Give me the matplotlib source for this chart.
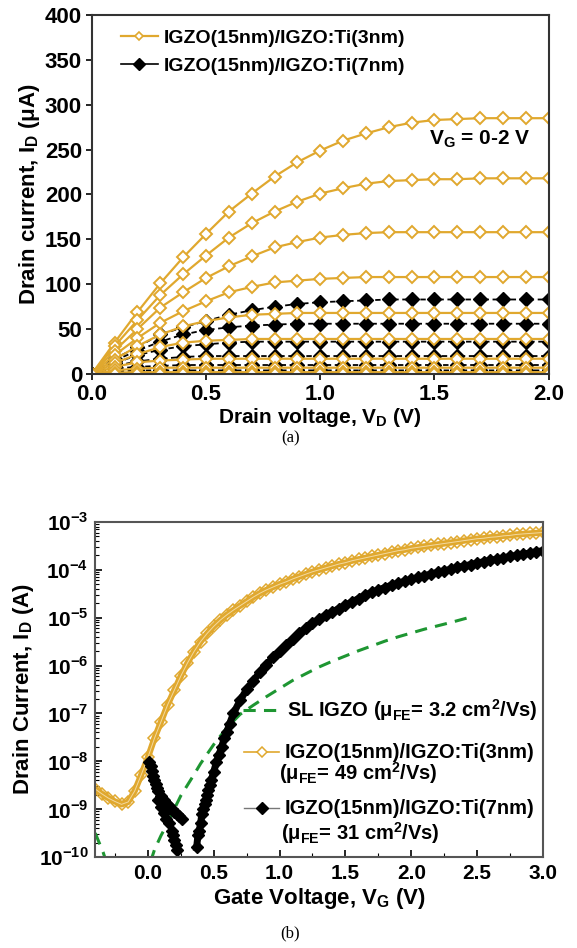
import numpy as np
import matplotlib
matplotlib.use('Agg')
import matplotlib.pyplot as plt
from matplotlib.ticker import FixedLocator, MultipleLocator, LogLocator, NullFormatter

plt.rcParams['font.family'] = ['Liberation Sans', 'DejaVu Sans']
plt.rcParams['font.weight'] = 'bold'
plt.rcParams['axes.labelweight'] = 'bold'
plt.rcParams['mathtext.fontset'] = 'custom'
plt.rcParams['mathtext.rm'] = 'Liberation Sans:bold'
plt.rcParams['mathtext.bf'] = 'Liberation Sans:bold'

GOLD = '#E0A82E'
GREEN = '#1E9632'

# ---------------- (a) output curves, VG = 2.0 ... 0.0 V in 0.2 V steps
vd = [0.0, 0.1, 0.2, 0.3, 0.4, 0.5, 0.6, 0.7, 0.8, 0.9, 1.0,
      1.1, 1.2, 1.3, 1.4, 1.5, 1.6, 1.7, 1.8, 1.9, 2.0]

gold_20 = [0, 35, 69, 101, 130, 156, 181, 201, 220, 236, 249, 260, 268, 275, 280, 283, 284, 285, 285, 285, 285]
gold_18 = [0, 31, 60, 88, 111, 132, 152, 168, 181, 192, 201, 207, 212, 215, 216, 217, 217, 218, 218, 218, 218]
gold_16 = [0, 26, 50, 74, 91, 107, 120, 131, 141, 147, 152, 155, 157, 158, 158, 158, 158, 158, 158, 158, 158]
gold_14 = [0, 21, 40, 57, 70, 81, 91, 97, 102, 104, 106, 107, 108, 108, 108, 108, 108, 108, 108, 108, 108]
gold_12 = [0, 16, 31, 44, 53, 59, 63, 66, 67, 68, 68, 68, 68, 68, 68, 68, 68, 68, 68, 68, 68]
gold_10 = [0, 12, 22, 30, 35, 37, 38, 39, 39, 39, 39, 39, 39, 39, 39, 39, 39, 39, 39, 39, 39]
gold_08 = [0, 8, 13, 15, 16, 17, 17, 17, 17, 17, 17, 17, 17, 17, 17, 17, 17, 17, 17, 17, 17]
gold_06 = [0, 4, 6, 7, 7, 7, 7, 7, 7, 7, 7, 7, 7, 7, 7, 7, 7, 7, 7, 7, 7]
gold_04 = [0, 1.5, 2, 2, 2, 2, 2, 2, 2, 2, 2, 2, 2, 2, 2, 2, 2, 2, 2, 2, 2]
gold_02 = [0, 0.5, 0.5, 0.5, 0.5, 0.5, 0.5, 0.5, 0.5, 0.5, 0.5, 0.5, 0.5, 0.5, 0.5, 0.5, 0.5, 0.5, 0.5, 0.5, 0.5]
gold_00 = [0, 0, 0, 0, 0, 0, 0, 0, 0, 0, 0, 0, 0, 0, 0, 0, 0, 0, 0, 0, 0]

black_20 = [0, 17, 30, 44, 52, 59, 66, 71, 75, 78, 80, 81, 82, 83, 83, 83, 83, 83, 83, 83, 83]
black_18 = [0, 15, 26, 36, 44, 49, 52, 54, 55, 56, 56, 56, 56, 56, 56, 56, 56, 56, 56, 56, 56]
black_16 = [0, 12, 21, 27, 31, 33, 35, 36, 36, 36, 36, 36, 36, 36, 36, 36, 36, 36, 36, 36, 36]
black_14 = [0, 9, 14, 17, 19, 20, 20, 20, 20, 20, 20, 20, 20, 20, 20, 20, 20, 20, 20, 20, 20]
black_12 = [0, 6, 8, 9, 10, 10, 10, 10, 10, 10, 10, 10, 10, 10, 10, 10, 10, 10, 10, 10, 10]
black_10 = [0, 3, 4, 4, 4, 4, 4, 4, 4, 4, 4, 4, 4, 4, 4, 4, 4, 4, 4, 4, 4]
black_08 = [0, 1, 1, 1, 1, 1, 1, 1, 1, 1, 1, 1, 1, 1, 1, 1, 1, 1, 1, 1, 1]
black_06 = [0, 0.3, 0.3, 0.3, 0.3, 0.3, 0.3, 0.3, 0.3, 0.3, 0.3, 0.3, 0.3, 0.3, 0.3, 0.3, 0.3, 0.3, 0.3, 0.3, 0.3]
black_04 = [0, 0, 0, 0, 0, 0, 0, 0, 0, 0, 0, 0, 0, 0, 0, 0, 0, 0, 0, 0, 0]

gold_set = [gold_20, gold_18, gold_16, gold_14, gold_12, gold_10, gold_08, gold_06, gold_04, gold_02, gold_00]
black_set = [black_20, black_18, black_16, black_14, black_12, black_10, black_08, black_06, black_04]

# ---------------- (b) transfer curves, log10 of drain current (A)
vg_gold = [-0.40, -0.35, -0.30, -0.25, -0.20, -0.15, -0.10, -0.05, 0.00, 0.05,
           0.10, 0.15, 0.20, 0.25, 0.30, 0.35, 0.40, 0.45, 0.50, 0.55,
           0.60, 0.65, 0.70, 0.75, 0.80, 0.85, 0.90, 0.95, 1.00, 1.05,
           1.10, 1.15, 1.20, 1.25, 1.30, 1.35, 1.40, 1.45, 1.50, 1.55,
           1.60, 1.65, 1.70, 1.75, 1.80, 1.85, 1.90, 1.95, 2.00, 2.05,
           2.10, 2.15, 2.20, 2.25, 2.30, 2.35, 2.40, 2.45, 2.50, 2.55,
           2.60, 2.65, 2.70, 2.75, 2.80, 2.85, 2.90, 2.95, 3.00]
gold_log = [-8.58, -8.68, -8.77, -8.84, -8.90, -8.85, -8.62, -8.28, -7.92, -7.52,
            -7.17, -6.82, -6.52, -6.22, -5.95, -5.71, -5.50, -5.33, -5.18, -5.05,
            -4.94, -4.84, -4.75, -4.66, -4.57, -4.49, -4.42, -4.36, -4.30, -4.25,
            -4.19, -4.14, -4.09, -4.04, -4.00, -3.96, -3.92, -3.88, -3.85, -3.81,
            -3.78, -3.75, -3.72, -3.69, -3.66, -3.63, -3.60, -3.58, -3.55, -3.53,
            -3.51, -3.49, -3.47, -3.45, -3.43, -3.41, -3.39, -3.37, -3.35, -3.34,
            -3.32, -3.31, -3.29, -3.28, -3.26, -3.25, -3.24, -3.23, -3.22]

vg_black_on = [0.37, 0.38, 0.39, 0.40, 0.41, 0.42, 0.43, 0.44, 0.45, 0.46,
               0.47, 0.48, 0.50, 0.52, 0.54, 0.56, 0.58, 0.60, 0.62, 0.65,
               0.70, 0.75, 0.80, 0.85, 0.90, 0.95, 1.00, 1.05, 1.10, 1.15,
               1.20, 1.25, 1.30, 1.35, 1.40, 1.45, 1.50, 1.55, 1.60, 1.65,
               1.70, 1.75, 1.80, 1.85, 1.90, 1.95, 2.00, 2.05, 2.10, 2.15,
               2.20, 2.25, 2.30, 2.35, 2.40, 2.45, 2.50, 2.55, 2.60, 2.65,
               2.70, 2.75, 2.80, 2.85, 2.90, 2.95, 3.00]
black_on_log = [-9.80, -9.55, -9.45, -9.30, -9.10, -9.00, -8.90, -8.80, -8.70, -8.60,
                -8.50, -8.40, -8.22, -8.02, -7.86, -7.70, -7.52, -7.38, -7.22, -7.00,
                -6.73, -6.50, -6.32, -6.14, -5.98, -5.83, -5.70, -5.57, -5.45, -5.33,
                -5.22, -5.12, -5.03, -4.95, -4.88, -4.81, -4.74, -4.67, -4.60, -4.53,
                -4.47, -4.42, -4.37, -4.32, -4.28, -4.24, -4.20, -4.16, -4.12, -4.09,
                -4.05, -4.02, -3.99, -3.95, -3.92, -3.89, -3.86, -3.83, -3.80, -3.78,
                -3.75, -3.72, -3.70, -3.67, -3.65, -3.62, -3.60]

vg_black_off1 = [0.01, 0.02, 0.03, 0.04, 0.05, 0.06, 0.07, 0.08, 0.10, 0.12,
                 0.14, 0.16, 0.18, 0.20, 0.22, 0.24, 0.26]
black_off1_log = [-8.02, -8.10, -8.20, -8.30, -8.40, -8.48, -8.56, -8.62, -8.72, -8.80,
                  -8.87, -8.94, -9.00, -9.05, -9.10, -9.15, -9.20]
vg_black_off2 = [0.08, 0.10, 0.12, 0.14, 0.16, 0.18, 0.19, 0.20, 0.21, 0.22, 0.225]
black_off2_log = [-8.80, -8.95, -9.08, -9.20, -9.30, -9.45, -9.55, -9.65, -9.75, -9.85, -10.3]

vg_sl_a = [-0.40, -0.37, -0.34, -0.31]
sl_a_log = [-9.50, -9.70, -9.90, -10.15]
vg_sl_b = [0.02, 0.05, 0.10, 0.15, 0.20, 0.25, 0.30, 0.35, 0.40, 0.45,
           0.50, 0.60, 0.70, 0.80, 0.90, 1.00, 1.10, 1.20, 1.30, 1.40,
           1.50, 1.60, 1.70, 1.80, 1.90, 2.00, 2.10, 2.20, 2.30, 2.42]
sl_b_log = [-10.10, -9.85, -9.55, -9.30, -9.00, -8.72, -8.50, -8.28, -8.05, -7.85,
            -7.65, -7.30, -7.02, -6.83, -6.65, -6.48, -6.31, -6.17, -6.03, -5.91,
            -5.80, -5.69, -5.59, -5.49, -5.40, -5.32, -5.24, -5.17, -5.10, -5.01]

fig = plt.figure(figsize=(5.77, 9.48), dpi=100)

# ================= panel (a)
ax1 = fig.add_axes([0.159, 0.6055, 0.792, 0.3787])
for b in black_set:
    ax1.plot(vd, b, color='black', ls=(0, (3, 2)), lw=1.3, marker='D', ms=7.5,
             mfc='black', mec='black')
for g in gold_set:
    ax1.plot(vd, g, color=GOLD, lw=1.6, marker='D', ms=6, mfc='white',
             mec=GOLD, mew=1.4)
ax1.set_xlim(0, 2.0)
ax1.set_ylim(0, 400)
ax1.xaxis.set_major_locator(MultipleLocator(0.5))
ax1.yaxis.set_major_locator(MultipleLocator(50))
ax1.xaxis.set_major_formatter(plt.FormatStrFormatter('%.1f'))
ax1.tick_params(direction='out', length=4, width=1.2, labelsize=16, pad=3)
for s in ax1.spines.values():
    s.set_linewidth(1.5)
    s.set_color('#333333')
ax1.set_xlabel('Drain voltage, V$_\\mathregular{D}$ (V)', fontsize=15, labelpad=1)
ax1.set_ylabel('Drain current, I$_\\mathregular{D}$ (μA)', fontsize=16, labelpad=2)

h_gold = plt.Line2D([], [], color=GOLD, lw=1.6, marker='D', ms=4.5, mfc='white', mec=GOLD, mew=1.2)
h_black = plt.Line2D([], [], color='black', lw=1.2, marker='D', ms=6.5, mfc='black')
ax1.legend([h_gold, h_black], ['IGZO(15nm)/IGZO:Ti(3nm)', 'IGZO(15nm)/IGZO:Ti(7nm)'],
           loc='upper left', bbox_to_anchor=(0.055, 0.97), frameon=False,
           fontsize=14, handlelength=1.9, handletextpad=0.3, labelspacing=0.5,
           borderaxespad=0, borderpad=0.2)
ax1.text(0.737, 0.655, 'V$_\\mathregular{G}$ = 0-2 V', transform=ax1.transAxes,
         fontsize=15, ha='left', va='center')

fig.text(0.503, 1 - 438 / 948, '(a)', ha='center', va='center',
         fontsize=12, family='Liberation Serif', weight='normal')

# ================= panel (b)
ax2 = fig.add_axes([0.165, 0.096, 0.776, 0.3534])
ax2.set_yscale('log')
ax2.plot(vg_sl_a, 10 ** np.array(sl_a_log), color=GREEN, lw=2.2, ls=(0, (4, 2.7)))
ax2.plot(vg_sl_b, 10 ** np.array(sl_b_log), color=GREEN, lw=2.2, ls=(0, (4, 2.7)))
ax2.plot(vg_gold, 10 ** np.array(gold_log), color=GOLD, lw=4.5, marker='D', ms=6.5,
         mfc='none', mec=GOLD, mew=1.1)
ax2.plot(vg_gold, 10 ** np.array(gold_log), color='#F3D9A0', lw=0.7)
ax2.plot(vg_black_off1, 10 ** np.array(black_off1_log), color='#777777', lw=0.8,
         marker='D', ms=6.5, mfc='black', mec='black')
ax2.plot(vg_black_off2, 10 ** np.array(black_off2_log), color='#777777', lw=0.8,
         marker='D', ms=6.5, mfc='black', mec='black')
ax2.plot(vg_black_on, 10 ** np.array(black_on_log), color='black', lw=5,
         marker='D', ms=6.5, mfc='black', mec='black')

ax2.set_xlim(-0.4, 3.0)
ax2.set_ylim(1e-10, 1e-3)
ax2.xaxis.set_major_locator(FixedLocator([0.0, 0.5, 1.0, 1.5, 2.0, 2.5, 3.0]))
ax2.xaxis.set_minor_locator(FixedLocator([-0.25, 0.25, 0.75, 1.25, 1.75, 2.25, 2.75]))
ax2.xaxis.set_major_formatter(plt.FormatStrFormatter('%.1f'))
decades = [-10, -9, -8, -7, -6, -5, -4, -3]
ax2.yaxis.set_major_locator(FixedLocator([10.0 ** d for d in decades]))
ax2.set_yticklabels(['10$^\\mathregular{%d}$' % d for d in decades])
ax2.yaxis.set_minor_locator(LogLocator(base=10, subs=np.arange(2, 10), numticks=20))
ax2.yaxis.set_minor_formatter(NullFormatter())
ax2.tick_params(which='major', direction='in', length=5, width=1.2, labelsize=15, pad=5)
ax2.tick_params(which='minor', direction='in', length=3, width=0.8)
for s in ax2.spines.values():
    s.set_linewidth(1.5)
    s.set_color('#555555')
ax2.set_xlabel('Gate Voltage, V$_\\mathregular{G}$ (V)', fontsize=16, labelpad=2)
ax2.set_ylabel('Drain Current, I$_\\mathregular{D}$ (A)', fontsize=16, labelpad=2)

# legend of (b), laid out like the original
tr = ax2.transAxes
ax2.plot([0.330, 0.404], [0.439, 0.439], transform=tr, color=GREEN, lw=2.2,
         ls=(0, (4, 2.7)))
ax2.plot([0.333, 0.411], [0.313, 0.313], transform=tr, color=GOLD, lw=1.2)
ax2.plot([0.372], [0.313], transform=tr, color=GOLD, marker='D', ms=5,
         mfc='white', mec=GOLD, mew=1.1)
ax2.plot([0.333, 0.411], [0.146, 0.146], transform=tr, color='#777777', lw=1.0)
ax2.plot([0.372], [0.146], transform=tr, color='black', marker='D', ms=6)
leg_fs = 14.5
ax2.text(0.429, 0.439, 'SL IGZO (μ$_\\mathregular{FE}$= 3.2 cm$^\\mathregular{2}$/Vs)',
         transform=tr, fontsize=leg_fs, va='center')
ax2.text(0.424, 0.313, 'IGZO(15nm)/IGZO:Ti(3nm)', transform=tr, fontsize=leg_fs, va='center')
ax2.text(0.411, 0.251, '(μ$_\\mathregular{FE}$= 49 cm$^\\mathregular{2}$/Vs)',
         transform=tr, fontsize=leg_fs, va='center')
ax2.text(0.424, 0.146, 'IGZO(15nm)/IGZO:Ti(7nm)', transform=tr, fontsize=leg_fs, va='center')
ax2.text(0.415, 0.072, '(μ$_\\mathregular{FE}$= 31 cm$^\\mathregular{2}$/Vs)',
         transform=tr, fontsize=leg_fs, va='center')

fig.text(0.503, 1 - 933 / 948, '(b)', ha='center', va='center',
         fontsize=12, family='Liberation Serif', weight='normal')

fig.savefig('out.png', dpi=100)
